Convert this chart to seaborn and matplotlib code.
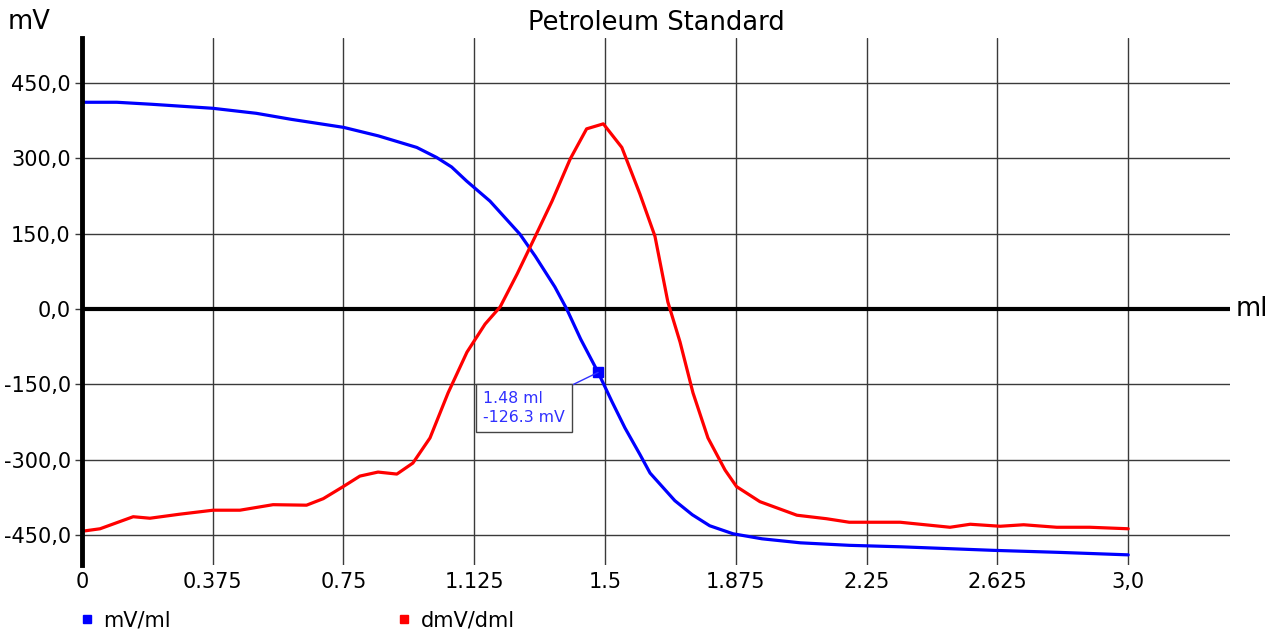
import matplotlib.pyplot as plt
import pandas as pd
import seaborn as sns
from matplotlib.lines import Line2D


# titration curve, volume in ml
ml_pts = [0.0, 0.1, 0.2, 0.375, 0.5, 0.6, 0.75, 0.85, 0.96, 1.017, 1.06, 1.103,
          1.17, 1.256, 1.30, 1.356, 1.39, 1.43, 1.48, 1.52, 1.557, 1.60, 1.629,
          1.70, 1.75, 1.80, 1.867, 1.95, 2.06, 2.2, 2.35, 2.5, 2.613, 2.8, 3.0]
mv_pts = [412, 412, 408, 400, 390, 378, 362, 345, 322, 302, 283, 255,
          215, 149, 105, 44, 0, -60, -126.3, -185, -237, -290, -327,
          -382, -410, -432, -448, -458, -466, -471, -474, -478, -481, -485, -490]

# first derivative
dml_pts = [0.0, 0.052, 0.147, 0.195, 0.28, 0.376, 0.453, 0.548, 0.644, 0.692,
           0.749, 0.797, 0.849, 0.903, 0.949, 0.998, 1.05, 1.104, 1.156, 1.199,
           1.248, 1.30, 1.348, 1.40, 1.447, 1.495, 1.548, 1.60, 1.643, 1.68,
           1.715, 1.752, 1.795, 1.844, 1.877, 1.944, 2.05, 2.135, 2.20, 2.346,
           2.489, 2.547, 2.633, 2.70, 2.795, 2.89, 3.0]
dmv_pts = [-443, -438, -414, -417, -409, -401, -401, -390, -391, -378,
           -354, -333, -325, -329, -307, -257, -167, -86, -30, 4,
           70, 145, 215, 299, 359, 369, 322, 229, 145, 14,
           -66, -167, -257, -321, -354, -384, -411, -418, -425, -425,
           -435, -429, -433, -430, -435, -435, -438]

x_ticks = [0, 0.375, 0.75, 1.125, 1.5, 1.875, 2.25, 2.625, 3.0]
x_labels = ["0", "0.375", "0.75", "1.125", "1.5", "1.875", "2.25", "2.625", "3,0"]
y_ticks = [-450, -300, -150, 0, 150, 300, 450]
y_labels = ["-450,0", "-300,0", "-150,0", "0,0", "150,0", "300,0", "450,0"]

cursor_ml = 1.48
cursor_mv = -126.3

sns.set_theme(style="white")
plt.rcParams["font.family"] = ["DejaVu Sans"]
plt.rcParams["text.color"] = "black"
plt.rcParams["xtick.color"] = "black"
plt.rcParams["ytick.color"] = "black"

df_mv = pd.DataFrame({"ml": ml_pts, "mV": mv_pts})
df_dmv = pd.DataFrame({"ml": dml_pts, "mV": dmv_pts})

fig = plt.figure(figsize=(12.8, 6.34), dpi=100)
ax = fig.add_axes([0.064, 0.109, 0.897, 0.831])

sns.lineplot(data=df_mv, x="ml", y="mV", color="#0000ff", lw=2.3, ax=ax, zorder=4)
sns.lineplot(data=df_dmv, x="ml", y="mV", color="#ff0000", lw=2.3, ax=ax, zorder=4)

ax.set_xlim(0, 3.292)
ax.set_ylim(-510, 540)

# grid
for xv in x_ticks[1:]:
    ax.axvline(xv, color="#3a3a3a", lw=1, zorder=1)
for yv in y_ticks:
    ax.axhline(yv, color="#3a3a3a", lw=1, zorder=1)
ax.axhline(0, color="black", lw=3, zorder=3)

for side in ["top", "right", "bottom"]:
    ax.spines[side].set_visible(False)
ax.spines["left"].set_linewidth(3.5)
ax.spines["left"].set_color("black")
ax.spines["left"].set_zorder(5)

ax.set_xticks(x_ticks)
ax.set_xticklabels(x_labels, fontsize=15)
ax.set_yticks(y_ticks)
ax.set_yticklabels(y_labels, fontsize=15)
ax.tick_params(axis="x", length=0, pad=5, labelcolor="black")
ax.tick_params(axis="y", length=5, width=1, color="#3a3a3a", pad=3, left=True, labelcolor="black")
ax.set_xlabel("")
ax.set_ylabel("")

ax.set_title("Petroleum Standard", fontsize=18.5, pad=6, color="black")
fig.text(0.006, 0.965, "mV", fontsize=18.5, va="center", ha="left")
fig.text(0.965, 0.513, "ml", fontsize=18.5, va="center", ha="left")

# cursor readout
ax.plot([cursor_ml], [cursor_mv], marker="s", color="#0000ff", markersize=7, zorder=6)
ax.annotate(
    f"{cursor_ml} ml\n{cursor_mv} mV",
    xy=(cursor_ml, cursor_mv),
    xytext=(-115, -19),
    textcoords="offset pixels",
    ha="left",
    va="top",
    fontsize=11.3,
    color="#3030ff",
    linespacing=1.3,
    bbox=dict(boxstyle="square,pad=0.45", fc="white", ec="#444444", lw=1),
    arrowprops=dict(arrowstyle="-", color="#3030ff", lw=1, relpos=(0.93, 1), shrinkA=0, shrinkB=0),
    zorder=7,
)

handles = [
    Line2D([], [], marker="s", color="#0000ff", linestyle="none", markersize=6, label="mV/ml"),
    Line2D([], [], marker="s", color="#ff0000", linestyle="none", markersize=6, label="dmV/dml"),
]
fig.legend(handles=handles, loc="center left", bbox_to_anchor=(0.045, 0.022), ncol=2,
           frameon=False, fontsize=15, handletextpad=0.3, columnspacing=10.7, handlelength=1)

fig.savefig("out.png", dpi=100)
